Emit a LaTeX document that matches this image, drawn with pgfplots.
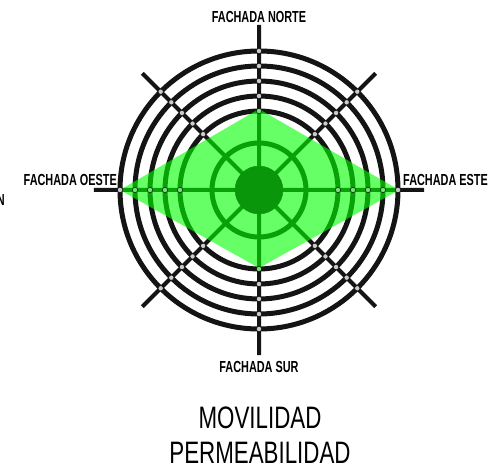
\documentclass[border=0pt]{standalone}
\usepackage{pgfplots}
\pgfplotsset{compat=1.18}
\usepgfplotslibrary{polar}
\usepackage{fontspec}
\setmainfont{Liberation Sans}
\definecolor{darkgreen}{RGB}{10,150,10}
\definecolor{dotgreen}{RGB}{120,225,120}
\newcommand\lbl[1]{\scalebox{0.68}[1]{\fontsize{16}{16}\selectfont\bfseries #1}}
\newcommand\bigtxt[1]{\scalebox{0.72}[1]{\fontsize{31}{31}\selectfont #1}}
\begin{document}
\begin{tikzpicture}
\useasboundingbox (0,0) rectangle (492pt,471pt);
\begin{polaraxis}[
    at={(259pt,281pt)}, anchor=center,
    width=330pt, height=330pt, scale only axis,
    ymin=0, ymax=165,
    xtick={0,45,...,315}, ytick={47,79,94,109,124,139},
    xticklabels={}, yticklabels={},
    grid=major,
    x grid style={line width=4pt, color=black!92},
    y grid style={line width=5pt, color=black!92},
    axis line style={draw=none},
    major tick length=0pt,
    clip=false,
]
% the four facades
\addplot[draw=none, fill=green, fill opacity=0.6] coordinates {
    (0,140) (90,81) (180,139) (270,78) (360,140)
};
% centre dot (under the green)
\addplot[only marks, mark=*, mark size=24pt, color=darkgreen] coordinates {(0,0)};
% light dots where the spokes cross the rings
\addplot[only marks, mark=*, mark size=2.6pt, mark options={fill=black!20, draw=none}] coordinates {
    (45,79) (45,94) (45,109) (45,124) (45,139)
    (90,94) (90,109) (90,124) (90,139)
    (135,79) (135,94) (135,109) (135,124) (135,139)
    (225,79) (225,94) (225,109) (225,124) (225,139)
    (270,94) (270,109) (270,124) (270,139)
    (315,79) (315,94) (315,109) (315,124) (315,139)
    (0,139) (180,139)
};
\addplot[only marks, mark=*, mark size=2.6pt, mark options={fill=dotgreen, draw=none}] coordinates {
    (0,79) (0,94) (0,109) (0,124)
    (180,79) (180,94) (180,109) (180,124)
    (90,79) (270,79)
};
\end{polaraxis}
\node[anchor=base] at (259pt,448pt) {\lbl{FACHADA NORTE}};
\node[anchor=base east, inner sep=0pt] at (117pt,285pt) {\lbl{FACHADA OESTE}};
\node[anchor=base west, inner sep=0pt] at (403pt,285pt) {\lbl{FACHADA ESTE}};
\node[anchor=base] at (259pt,98pt) {\lbl{FACHADA SUR}};
\node[anchor=base east, inner sep=0pt] at (5pt,265pt) {\lbl{N}};
\node[anchor=base] at (260pt,43pt) {\bigtxt{MOVILIDAD}};
\node[anchor=base] at (260pt,8pt) {\bigtxt{PERMEABILIDAD}};
\end{tikzpicture}
\end{document}
